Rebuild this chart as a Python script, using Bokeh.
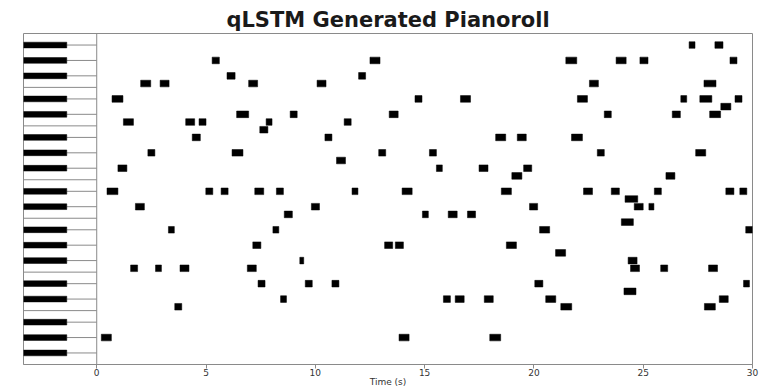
from bokeh.plotting import figure
from bokeh.models import Range1d, FixedTicker, Span, ColumnDataSource
from bokeh.embed import file_html
from bokeh.resources import INLINE

title_text = "qLSTM Generated Pianoroll"
x_label = "Time (s)"
x_ticks = [0, 5, 10, 15, 20, 25, 30]
pitch_low = 41   # F2
pitch_high = 83  # B5

onsets = [5.28, 5.96, 2.01, 2.90, 6.95, 10.08, 0.70, 1.22, 4.07, 4.68,
          6.40, 7.75, 7.46, 8.85, 4.37, 2.34, 6.19, 0.97, 0.47, 4.99,
          5.69, 7.23, 8.22, 1.77, 9.82, 8.58, 3.28, 8.06, 7.14, 9.29,
          1.55, 2.69, 3.81, 6.89, 7.38, 9.54, 8.41, 3.57, 0.21, 12.50,
          11.98, 14.56, 16.64, 13.38, 11.32, 10.44, 18.25, 19.24, 10.97, 12.90,
          15.22, 15.54, 17.49, 19.53, 18.99, 11.68, 13.97, 18.51, 14.90, 16.08,
          16.96, 19.80, 13.17, 13.66, 18.74, 10.76, 15.86, 16.40, 17.73, 13.83,
          17.98, 27.10, 28.28, 21.46, 23.76, 24.85, 28.97, 22.54, 27.78, 21.99,
          26.72, 27.59, 29.20, 28.55, 23.22, 26.33, 28.04, 21.72, 22.90, 27.40,
          26.04, 22.27, 23.54, 24.17, 25.51, 28.78, 29.42, 24.59, 25.26, 24.00,
          20.26, 29.69, 20.99, 24.31, 24.42, 25.80, 27.99, 20.04, 29.59, 24.12,
          20.54, 28.48, 21.23, 27.80]
durations = [0.33, 0.37, 0.46, 0.41, 0.41, 0.41, 0.50, 0.46, 0.41, 0.32,
             0.55, 0.27, 0.37, 0.32, 0.37, 0.32, 0.50, 0.41, 0.50, 0.32,
             0.32, 0.41, 0.32, 0.41, 0.37, 0.37, 0.27, 0.27, 0.37, 0.18,
             0.32, 0.27, 0.41, 0.41, 0.32, 0.32, 0.27, 0.32, 0.46, 0.46,
             0.32, 0.32, 0.46, 0.41, 0.32, 0.32, 0.46, 0.41, 0.41, 0.32,
             0.32, 0.27, 0.41, 0.37, 0.46, 0.27, 0.46, 0.46, 0.27, 0.41,
             0.37, 0.37, 0.37, 0.37, 0.46, 0.32, 0.32, 0.41, 0.41, 0.46,
             0.50, 0.27, 0.37, 0.50, 0.46, 0.37, 0.32, 0.41, 0.55, 0.46,
             0.27, 0.55, 0.32, 0.46, 0.32, 0.37, 0.50, 0.50, 0.32, 0.46,
             0.41, 0.41, 0.37, 0.58, 0.32, 0.37, 0.32, 0.41, 0.23, 0.55,
             0.46, 0.32, 0.46, 0.41, 0.41, 0.32, 0.41, 0.37, 0.27, 0.55,
             0.46, 0.41, 0.50, 0.50]
pitches = [80, 78, 77, 77, 77, 77, 75, 72, 72, 72,
           73, 72, 71, 73, 70, 68, 68, 66, 63, 63,
           63, 63, 63, 61, 61, 60, 58, 58, 56, 54,
           53, 53, 53, 53, 51, 51, 49, 48, 44, 80,
           78, 75, 75, 73, 72, 70, 70, 70, 67, 68,
           68, 66, 66, 66, 65, 63, 63, 63, 60, 60,
           60, 61, 56, 56, 56, 51, 49, 49, 49, 44,
           44, 82, 82, 80, 80, 80, 80, 77, 77, 75,
           75, 75, 75, 74, 73, 73, 73, 70, 68, 68,
           65, 63, 63, 62, 63, 63, 63, 61, 61, 59,
           58, 58, 55, 54, 53, 53, 53, 51, 51, 50,
           49, 49, 48, 48]

key_left = -3.35
black_key_right = -1.37
note_half = 0.43
black_half = 0.37

p = figure(width=767, height=389, output_backend="svg", toolbar_location=None,
           x_range=Range1d(key_left, 30), y_range=Range1d(pitch_low - 0.5, pitch_high + 0.5),
           y_axis_location=None, min_border_left=23, min_border_right=15,
           min_border_top=33, min_border_bottom=0)
p.grid.visible = False
p.outline_line_color = "#8a8a8a"
p.background_fill_color = "white"

p.title.text = title_text
p.title.text_font = "DejaVu Sans"
p.title.text_font_size = "21px"
p.title.text_font_style = "bold"
p.title.align = "center"
p.title.text_color = "#1a1a1a"
p.title.standoff = 3

# keyboard
all_p = list(range(pitch_low, pitch_high + 1))
black = [q for q in all_p if q % 12 in (1, 3, 6, 8, 10)]
bounds = [q - 0.5 for q in all_p if q % 12 in (0, 5) and q > pitch_low]

p.segment(x0=[black_key_right] * len(black), x1=[0] * len(black), y0=black, y1=black,
          line_color="#8a8a8a", line_width=1)
p.segment(x0=[key_left] * len(bounds), x1=[0] * len(bounds), y0=bounds, y1=bounds,
          line_color="#8a8a8a", line_width=1)
p.quad(left=[key_left] * len(black), right=[black_key_right] * len(black),
       bottom=[q - black_half for q in black], top=[q + black_half for q in black],
       fill_color="black", line_color="black", line_width=0.5)
p.add_layout(Span(location=0, dimension="height", line_color="#8a8a8a", line_width=1))

src = ColumnDataSource(dict(
    left=onsets,
    right=[o + d for o, d in zip(onsets, durations)],
    bottom=[q - note_half for q in pitches],
    top=[q + note_half for q in pitches],
))
p.quad(left="left", right="right", bottom="bottom", top="top", source=src,
       fill_color="black", line_color="black", line_width=0.5)

ax = p.xaxis[0]
ax.ticker = FixedTicker(ticks=x_ticks)
ax.axis_label = x_label
ax.axis_label_text_font = "DejaVu Sans"
ax.axis_label_text_font_size = "9px"
ax.axis_label_text_font_style = "normal"
ax.axis_label_text_color = "#333333"
ax.axis_label_standoff = -2
ax.major_label_text_font = "DejaVu Sans"
ax.major_label_text_font_size = "9px"
ax.major_label_text_color = "#333333"
ax.major_label_standoff = 0
ax.major_tick_out = 4
ax.major_tick_in = 0
ax.minor_tick_line_color = None
ax.axis_line_color = "#8a8a8a"
ax.major_tick_line_color = "#8a8a8a"

open("out.html", "w").write(file_html(p, INLINE))
